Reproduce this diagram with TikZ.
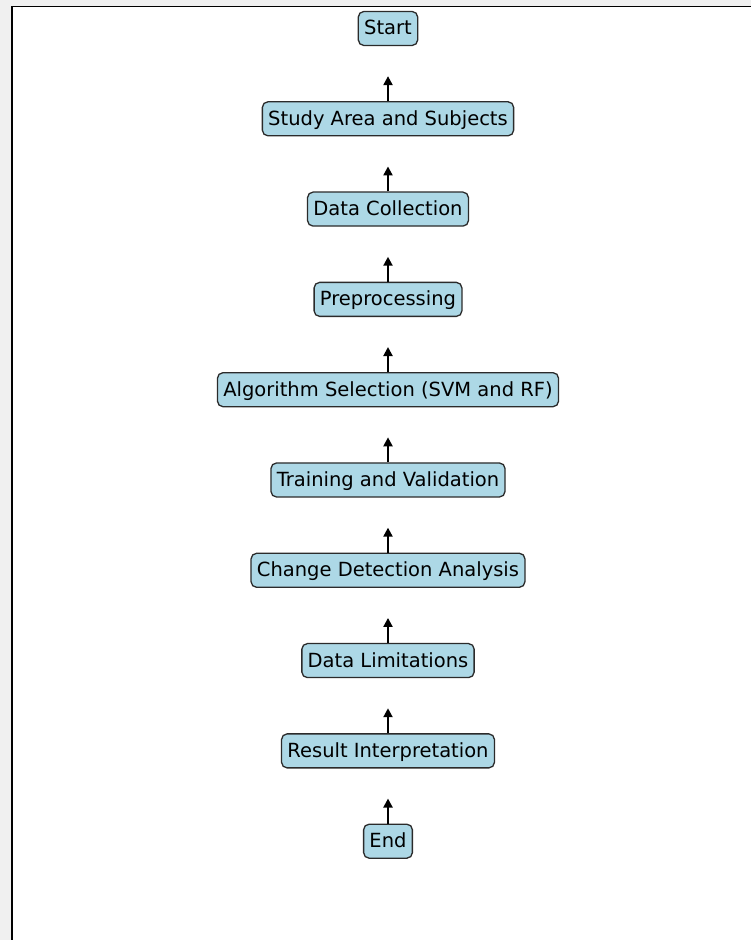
\documentclass[tikz,border=0pt]{standalone}
\usepackage{fontspec}
\setmainfont{DejaVu Sans}
\usepackage{xcolor}
\usetikzlibrary{calc,arrows.meta}
\definecolor{color_figure_bg}{HTML}{f0f0f0}
\definecolor{color_box_fill}{HTML}{add8e6}
\definecolor{color_box_edge}{HTML}{2b2b2b}

\tikzset{
	stepbox/.style={draw=color_box_edge, fill=color_box_fill, line width=1.3pt,
		rounded corners=5.5pt, inner xsep=5.85pt, inner ysep=5.85pt,
		text height=17.6pt, text depth=4.7pt, font=\fontsize{19.5pt}{23pt}\selectfont},
	uparrow/.style={line width=2.1pt, -{Triangle[length=9pt,width=9pt]}},
}

\begin{document}
\begin{tikzpicture}[x=1pt,y=1pt]
				\useasboundingbox (0, 0) rectangle (751, 940);
				% Background and axes frame
				\fill[color_figure_bg] (0, 0) rectangle (751, 940);
				\draw[line width=1.3pt, fill=white] (12, -10) rectangle (765, 933.5);

				% Steps
				\node[stepbox] (start) at (388, 911.5) {Start};
				\node[stepbox] (study) at (388, 821.2) {Study Area and Subjects};
				\node[stepbox] (collection) at (388, 730.9) {Data Collection};
				\node[stepbox] (preprocessing) at (388, 640.6) {Preprocessing};
				\node[stepbox] (algorithm) at (388, 550.3) {Algorithm Selection (SVM and RF)};
				\node[stepbox] (training) at (388, 460.0) {Training and Validation};
				\node[stepbox] (change) at (388, 369.7) {Change Detection Analysis};
				\node[stepbox] (limitations) at (388, 279.4) {Data Limitations};
				\node[stepbox] (result) at (388, 189.1) {Result Interpretation};
				\node[stepbox] (end) at (388, 98.8) {End};

				% Arrow tips
				\coordinate (study_tip) at ($(study.north) + (0, 25)$);
				\coordinate (collection_tip) at ($(collection.north) + (0, 25)$);
				\coordinate (preprocessing_tip) at ($(preprocessing.north) + (0, 25)$);
				\coordinate (algorithm_tip) at ($(algorithm.north) + (0, 25)$);
				\coordinate (training_tip) at ($(training.north) + (0, 25)$);
				\coordinate (change_tip) at ($(change.north) + (0, 25)$);
				\coordinate (limitations_tip) at ($(limitations.north) + (0, 25)$);
				\coordinate (result_tip) at ($(result.north) + (0, 25)$);
				\coordinate (end_tip) at ($(end.north) + (0, 25)$);

				% Arrows
				\draw[uparrow] (study) -- (study_tip);
				\draw[uparrow] (collection) -- (collection_tip);
				\draw[uparrow] (preprocessing) -- (preprocessing_tip);
				\draw[uparrow] (algorithm) -- (algorithm_tip);
				\draw[uparrow] (training) -- (training_tip);
				\draw[uparrow] (change) -- (change_tip);
				\draw[uparrow] (limitations) -- (limitations_tip);
				\draw[uparrow] (result) -- (result_tip);
				\draw[uparrow] (end) -- (end_tip);
\end{tikzpicture}
\end{document}
